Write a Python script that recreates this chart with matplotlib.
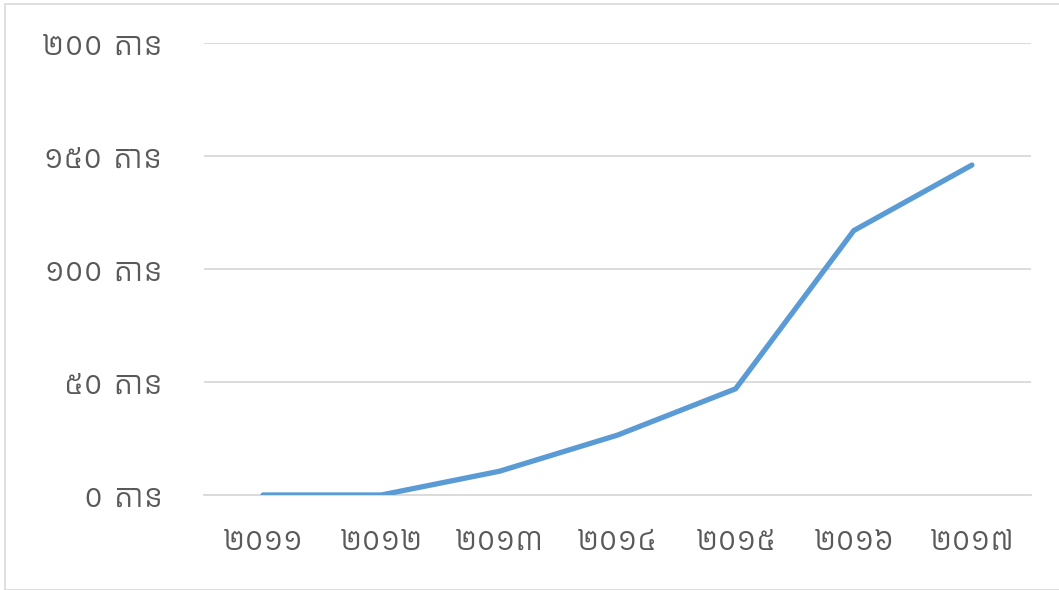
import matplotlib
matplotlib.use("Agg")
import matplotlib.pyplot as plt
from matplotlib.patches import Rectangle

YEARS = ["២០១១", "២០១២", "២០១៣", "២០១៤", "២០១៥", "២០១៦", "២០១៧"]
TONS = [0, 0, 10.5, 26.5, 47, 117, 146]
Y_TICKS = [0, 50, 100, 150, 200]
Y_LABELS = ["០ តោន", "៥០ តោន", "១០០ តោន", "១៥០ តោន", "២០០ តោន"]

plt.rcParams["font.family"] = ["Kantumruy Pro", "Noto Sans Khmer", "DejaVu Sans"]

TEXT = "#595959"
GRID = "#D9D9D9"
LINE = "#5B9BD5"

fig = plt.figure(figsize=(10.59, 5.9), dpi=100, facecolor="white")
ax = fig.add_axes([204 / 1059, 1 - 495 / 590, 827 / 1059, 452 / 590])

# chart-area frame
fig.patches.append(Rectangle((5 / 1059, 0), 1.2, 1 - 4 / 590, transform=fig.transFigure,
                             fill=False, edgecolor=GRID, linewidth=1.2))

x = list(range(len(YEARS)))
ax.plot(x, TONS, color=LINE, linewidth=3.8, solid_capstyle="round",
        solid_joinstyle="round", zorder=3)

ax.set_xlim(-0.5, len(YEARS) - 0.5)
ax.set_ylim(0, 200)
ax.set_yticks(Y_TICKS)
ax.set_yticklabels(Y_LABELS)
ax.set_xticks(x)
ax.set_xticklabels(YEARS)
ax.grid(axis="y", color=GRID, linewidth=1.3)
ax.set_axisbelow(True)
for side in ("top", "right", "left"):
    ax.spines[side].set_visible(False)
ax.spines["bottom"].set_color(GRID)
ax.spines["bottom"].set_linewidth(1.3)
ax.tick_params(axis="both", length=0, labelsize=23, labelcolor=TEXT)
ax.tick_params(axis="y", pad=30)
ax.tick_params(axis="x", pad=23)

fig.savefig("out.png", dpi=100, facecolor="white")
